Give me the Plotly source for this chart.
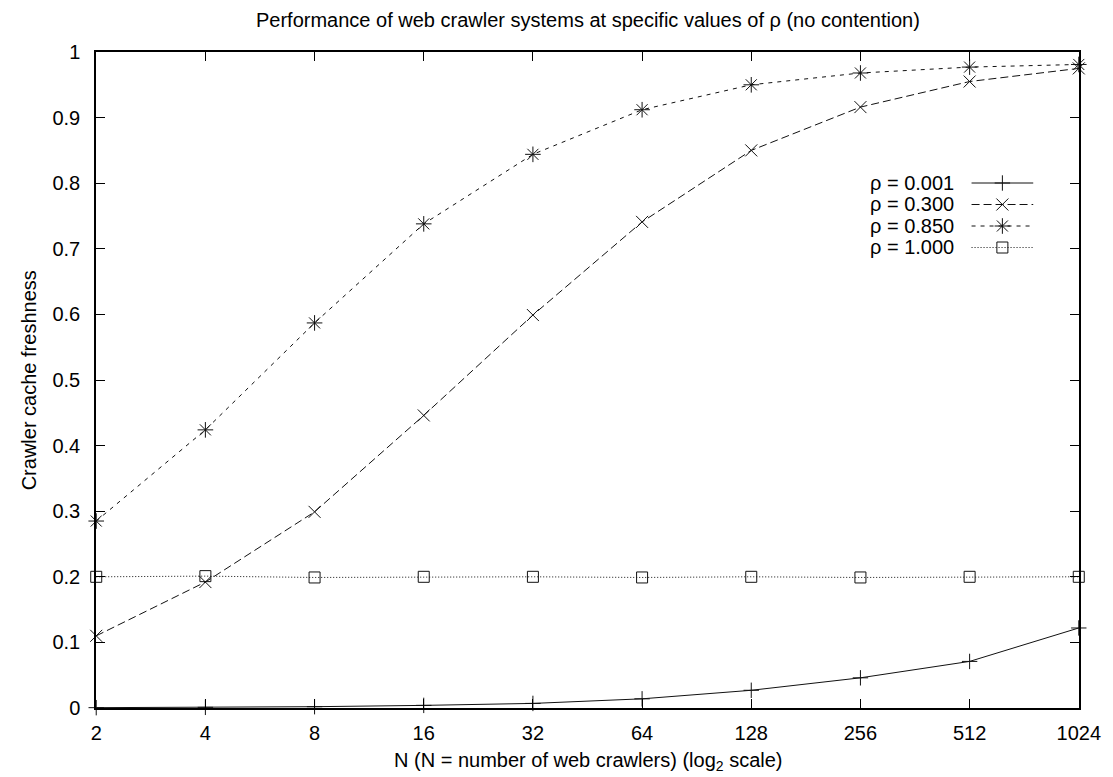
import math
import plotly.graph_objects as go

# ---------------- data ----------------
N = [2, 4, 8, 16, 32, 64, 128, 256, 512, 1024]
x_tick_labels = ["2", "4", "8", "16", "32", "64", "128", "256", "512", "1024"]
y_tick_vals = [0, 0.1, 0.2, 0.3, 0.4, 0.5, 0.6, 0.7, 0.8, 0.9, 1.0]
y_tick_labels = ["0", "0.1", "0.2", "0.3", "0.4", "0.5", "0.6", "0.7", "0.8", "0.9", "1"]

rho_0001 = [0.0005, 0.001, 0.002, 0.004, 0.007, 0.014, 0.027, 0.046, 0.071, 0.122]
rho_0300 = [0.110, 0.192, 0.299, 0.446, 0.599, 0.741, 0.850, 0.916, 0.955, 0.975]
rho_0850 = [0.285, 0.424, 0.587, 0.738, 0.844, 0.912, 0.950, 0.968, 0.977, 0.981]
rho_1000 = [0.200, 0.201, 0.199, 0.200, 0.200, 0.199, 0.200, 0.199, 0.200, 0.200]

series_names = ["ρ = 0.001", "ρ = 0.300", "ρ = 0.850", "ρ = 1.000"]
series_values = [rho_0001, rho_0300, rho_0850, rho_1000]

# ---------------- styles ----------------
FONT = "Liberation Sans, Arial, Helvetica, sans-serif"
FS = 20
styles = [
    dict(dash="solid", symbol="cross-thin-open", size=11),
    dict(dash="8px,4px", symbol="x-thin-open", size=12),
    dict(dash="4px,5px", symbol="asterisk-open", size=13),
    dict(dash="1px,2px", symbol="square-open", size=11),
]
LINE_COLOR = "#111111"

W, H = 1113, 777
L, R, T, B = 96, 29, 52, 69
PW, PH = W - L - R, H - T - B


def px_to_paper(px, py):
    return (px - L) / PW, (H - B - py) / PH


fig = go.Figure()

for name, vals, st in zip(series_names, series_values, styles):
    fig.add_trace(go.Scatter(
        x=N, y=vals, name=name, mode="lines+markers",
        line=dict(color=LINE_COLOR, width=1, dash=st["dash"]),
        marker=dict(symbol=st["symbol"], size=st["size"], color=LINE_COLOR,
                    line=dict(color=LINE_COLOR, width=1)),
        cliponaxis=False, showlegend=False,
    ))

# ---------------- custom legend (text left of sample, like gnuplot) ----------------
leg_rows = [183, 204.5, 226, 247.5]
leg_x0, leg_xm, leg_x1 = 976, 1007, 1038
leg_text_x = 960
for name, row, st in zip(series_names, leg_rows, styles):
    fig.add_trace(go.Scatter(
        x=[leg_x0, leg_x1], y=[row, row], mode="lines",
        line=dict(color=LINE_COLOR, width=1, dash=st["dash"]),
        xaxis="x2", yaxis="y2", showlegend=False, hoverinfo="skip",
    ))
    fig.add_trace(go.Scatter(
        x=[leg_xm], y=[row], mode="markers",
        marker=dict(symbol=st["symbol"], size=st["size"], color=LINE_COLOR,
                    line=dict(color=LINE_COLOR, width=1)),
        xaxis="x2", yaxis="y2", showlegend=False, hoverinfo="skip",
    ))
    ax, ay = px_to_paper(leg_text_x, row)
    fig.add_annotation(
        x=ax, y=ay, xref="paper", yref="paper", text=name,
        showarrow=False, xanchor="right", yanchor="middle",
        font=dict(family=FONT, size=FS, color="black"),
    )

eps = 0.0006
axis_common = dict(
    showgrid=False, zeroline=False, showline=True, linecolor="black", linewidth=1.5,
    mirror="allticks", ticks="inside", ticklen=9, tickwidth=1.2, tickcolor="black",
    tickfont=dict(family=FONT, size=FS, color="black"),
)

fig.update_layout(
    width=W, height=H,
    margin=dict(l=L, r=R, t=T, b=B, pad=0),
    paper_bgcolor="white", plot_bgcolor="white",
    font=dict(family=FONT, size=FS, color="black"),
    xaxis=dict(type="log", range=[math.log10(N[0]) - eps, math.log10(N[-1]) + eps],
               tickvals=N, ticktext=x_tick_labels, ticklabelstandoff=6,
               **axis_common),
    yaxis=dict(range=[0, 1], tickvals=y_tick_vals, ticktext=y_tick_labels,
               ticklabelstandoff=10, **axis_common),
    xaxis2=dict(range=[L, W - R], overlaying="x", visible=False, anchor="y2"),
    yaxis2=dict(range=[H - B, T], overlaying="y", visible=False, anchor="x2"),
    showlegend=False,
)

# titles
tx, ty = px_to_paper((L + W - R) / 2, 20)
fig.add_annotation(
    x=tx, y=ty, xref="paper", yref="paper",
    text="Performance of web crawler systems at specific values of ρ (no contention)",
    showarrow=False, xanchor="center", yanchor="middle",
    font=dict(family=FONT, size=FS, color="black"),
)
tx, ty = px_to_paper((L + W - R) / 2, 761)
fig.add_annotation(
    x=tx, y=ty, xref="paper", yref="paper",
    text="N (N = number of web crawlers) (log<sub>2</sub> scale)",
    showarrow=False, xanchor="center", yanchor="middle",
    font=dict(family=FONT, size=FS, color="black"),
)
tx, ty = px_to_paper(29, (T + H - B) / 2)
fig.add_annotation(
    x=tx, y=ty, xref="paper", yref="paper",
    text="Crawler cache freshness", textangle=-90,
    showarrow=False, xanchor="center", yanchor="middle",
    font=dict(family=FONT, size=FS, color="black"),
)

fig.write_html("out.html")
